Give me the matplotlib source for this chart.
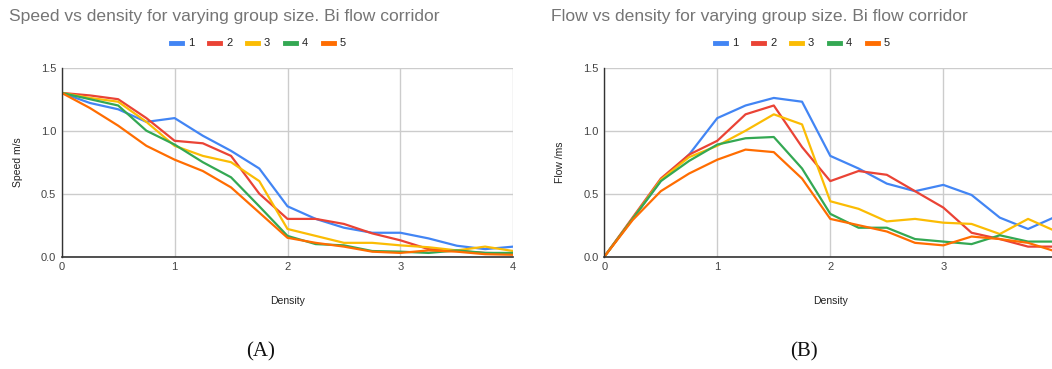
import numpy as np
import matplotlib
matplotlib.use('Agg')
import matplotlib.pyplot as plt

plt.rcParams['font.family'] = ['Liberation Sans', 'DejaVu Sans']

density = [0, 0.25, 0.5, 0.75, 1.0, 1.25, 1.5, 1.75, 2.0,
           2.25, 2.5, 2.75, 3.0, 3.25, 3.5, 3.75, 4.0]
groups = ['1', '2', '3', '4', '5']
colors = ['#4285F4', '#EA4335', '#FBBC04', '#34A853', '#FF6D01']

# speed m/s per group size
speed_1 = [1.30, 1.22, 1.17, 1.07, 1.10, 0.96, 0.84, 0.70, 0.40, 0.30, 0.23, 0.19, 0.19, 0.145, 0.087, 0.06, 0.08]
speed_2 = [1.30, 1.28, 1.25, 1.10, 0.92, 0.90, 0.80, 0.50, 0.30, 0.30, 0.26, 0.185, 0.13, 0.06, 0.045, 0.03, 0.025]
speed_3 = [1.30, 1.26, 1.23, 1.07, 0.88, 0.80, 0.75, 0.60, 0.22, 0.165, 0.11, 0.11, 0.09, 0.075, 0.05, 0.08, 0.045]
speed_4 = [1.30, 1.25, 1.20, 1.00, 0.89, 0.75, 0.63, 0.40, 0.165, 0.10, 0.09, 0.045, 0.04, 0.03, 0.05, 0.03, 0.03]
speed_5 = [1.30, 1.18, 1.04, 0.88, 0.77, 0.68, 0.55, 0.35, 0.15, 0.11, 0.08, 0.04, 0.03, 0.05, 0.04, 0.02, 0.015]

# flow per group size
flow_1 = [0, 0.30, 0.60, 0.81, 1.10, 1.20, 1.26, 1.23, 0.80, 0.70, 0.58, 0.52, 0.57, 0.49, 0.31, 0.22, 0.32]
flow_2 = [0, 0.31, 0.62, 0.81, 0.92, 1.13, 1.20, 0.87, 0.60, 0.68, 0.65, 0.52, 0.39, 0.19, 0.14, 0.08, 0.08]
flow_3 = [0, 0.30, 0.61, 0.79, 0.88, 1.00, 1.13, 1.05, 0.44, 0.38, 0.28, 0.30, 0.27, 0.26, 0.18, 0.30, 0.20]
flow_4 = [0, 0.30, 0.60, 0.76, 0.89, 0.94, 0.95, 0.70, 0.34, 0.23, 0.23, 0.14, 0.12, 0.10, 0.17, 0.12, 0.12]
flow_5 = [0, 0.29, 0.52, 0.66, 0.77, 0.85, 0.83, 0.62, 0.30, 0.25, 0.20, 0.11, 0.09, 0.16, 0.14, 0.11, 0.04]

speeds = [speed_1, speed_2, speed_3, speed_4, speed_5]
flows = [flow_1, flow_2, flow_3, flow_4, flow_5]

W, H = 1052, 369
fig = plt.figure(figsize=(W / 100, H / 100), dpi=100)


def px_axes(x0, x1, y0, y1):
    return fig.add_axes([x0 / W, 1 - y1 / H, (x1 - x0) / W, (y1 - y0) / H])


def style(ax, ylabel):
    ax.set_xlim(0, 4)
    ax.set_ylim(0, 1.5)
    ax.set_xticks([0, 1, 2, 3, 4])
    ax.set_yticks([0, 0.5, 1.0, 1.5])
    ax.set_yticklabels(['0.0', '0.5', '1.0', '1.5'])
    ax.grid(True, color='#cccccc', linewidth=1)
    ax.set_axisbelow(True)
    for s in ['top', 'right']:
        ax.spines[s].set_visible(False)
    ax.spines['bottom'].set_color('#333333')
    ax.spines['left'].set_color('#333333')
    ax.spines['bottom'].set_linewidth(1.2)
    ax.spines['left'].set_linewidth(1.0)
    ax.tick_params(length=0, labelsize=8, colors='#444444', pad=4)
    ax.set_xlabel('Density', fontsize=7.5, color='#222222', labelpad=17)
    ax.set_ylabel(ylabel, fontsize=7.5, color='#222222', labelpad=13)


def legend(x_start):
    y = 43
    x = x_start
    for g, c in zip(groups, colors):
        fig.lines.append(plt.Line2D([x / W, (x + 11) / W], [1 - y / H, 1 - y / H],
                                    color=c, linewidth=3.5, transform=fig.transFigure))
        fig.text((x + 17) / W, 1 - y / H, g, fontsize=8, color='#222222',
                 va='center', ha='left')
        x += 38


ax1 = px_axes(61.7, 513.3, 67.7, 256.7)
for vals, c in zip(speeds, colors):
    ax1.plot(density, vals, color=c, linewidth=1.6, solid_joinstyle='round')
style(ax1, 'Speed m/s')

ax2 = px_axes(604.3, 1056.3, 67.7, 256.7)
for vals, c in zip(flows, colors):
    ax2.plot(density, vals, color=c, linewidth=1.6, solid_joinstyle='round')
style(ax2, 'Flow /ms')
ax2.xaxis.get_majorticklabels()[-1].set_visible(False)

fig.text(9 / W, 1 - 17 / H, 'Speed vs density for varying group size. Bi flow corridor',
         fontsize=12.6, color='#757575', va='center', ha='left')
fig.text(551 / W, 1 - 17 / H, 'Flow vs density for varying group size. Bi flow corridor',
         fontsize=12.6, color='#757575', va='center', ha='left')
legend(171)
legend(715)

fig.text(261 / W, 1 - 352 / H, '(A)', fontsize=15, family='Liberation Serif',
         color='#111111', ha='center', va='center')
fig.text(804 / W, 1 - 352 / H, '(B)', fontsize=15, family='Liberation Serif',
         color='#111111', ha='center', va='center')

fig.savefig('out.png', dpi=100)
